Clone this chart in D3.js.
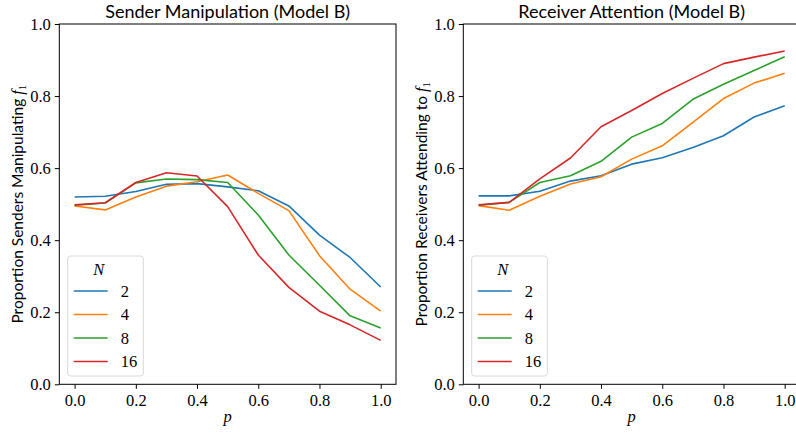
<!DOCTYPE html>
<html>
<head>
<meta charset="utf-8">
<script src="https://cdn.jsdelivr.net/npm/d3@7"></script>
<style>
  body { margin: 0; background: #fff; }
  svg text { fill: #000; }
</style>
</head>
<body>
<div id="chart"></div>
<script>
// data
var pValues = [0.0, 0.1, 0.2, 0.3, 0.4, 0.5, 0.6, 0.7, 0.8, 0.9, 1.0];
var groupSizes = ["2", "4", "8", "16"];
var tickValues = [0.0, 0.2, 0.4, 0.6, 0.8, 1.0];

var senderN2  = [0.520, 0.522, 0.535, 0.555, 0.557, 0.548, 0.537, 0.495, 0.414, 0.352, 0.270];
var senderN4  = [0.495, 0.484, 0.520, 0.550, 0.562, 0.581, 0.530, 0.482, 0.357, 0.264, 0.203];
var senderN8  = [0.497, 0.503, 0.559, 0.570, 0.568, 0.560, 0.470, 0.359, 0.275, 0.190, 0.156];
var senderN16 = [0.498, 0.504, 0.560, 0.587, 0.578, 0.493, 0.359, 0.269, 0.203, 0.165, 0.122];

var receiverN2  = [0.523, 0.523, 0.536, 0.564, 0.579, 0.611, 0.629, 0.657, 0.690, 0.742, 0.773];
var receiverN4  = [0.496, 0.483, 0.522, 0.556, 0.576, 0.625, 0.662, 0.727, 0.793, 0.836, 0.863];
var receiverN8  = [0.497, 0.505, 0.560, 0.579, 0.619, 0.686, 0.724, 0.791, 0.833, 0.871, 0.909];
var receiverN16 = [0.498, 0.505, 0.570, 0.628, 0.715, 0.760, 0.807, 0.849, 0.890, 0.908, 0.925];

var colors = ["#1f77b4", "#ff7f0e", "#2ca02c", "#d62728"];

var width = 796, height = 434;
var serif = "'Liberation Serif', 'DejaVu Serif', serif";
var sans = "Lato, 'Open Sans', sans-serif";

var svg = d3.select("#chart")
  .append("svg")
    .attr("width", width)
    .attr("height", height);

var panels = [
  {left: 59.3, title: "Sender Manipulation (Model B)", ylabel: "Proportion Senders Manipulating ",
   series: [senderN2, senderN4, senderN8, senderN16], labelX: 18},
  {left: 463.3, title: "Receiver Attention (Model B)", ylabel: "Proportion Receivers Attending to ",
   series: [receiverN2, receiverN4, receiverN8, receiverN16], labelX: 422}
];

var plotW = 336.7, plotTop = 24, plotBottom = 384.3;

panels.forEach(function(panel) {
  var x = d3.scaleLinear().domain([-0.05, 1.05]).range([panel.left, panel.left + plotW]);
  var y = d3.scaleLinear().domain([0, 1]).range([plotBottom, plotTop]);

  var g = svg.append("g");

  // x axis
  var xAxis = g.append("g")
    .attr("transform", "translate(0," + plotBottom + ")")
    .call(d3.axisBottom(x).tickValues(tickValues).tickFormat(d3.format(".1f")).tickSize(4.5).tickPadding(5));
  xAxis.select(".domain").remove();
  xAxis.selectAll("text").style("font-family", serif).style("font-size", "16.5px");
  xAxis.selectAll("line").attr("stroke", "#000").attr("stroke-width", 1);

  // y axis
  var yAxis = g.append("g")
    .attr("transform", "translate(" + panel.left + ",0)")
    .call(d3.axisLeft(y).tickValues(tickValues).tickFormat(d3.format(".1f")).tickSize(4.5).tickPadding(4));
  yAxis.select(".domain").remove();
  yAxis.selectAll("text").style("font-family", serif).style("font-size", "16.5px");
  yAxis.selectAll("line").attr("stroke", "#000").attr("stroke-width", 1);

  // lines
  var line = d3.line()
    .x(function(d, i) { return x(pValues[i]); })
    .y(function(d) { return y(d); });

  panel.series.forEach(function(s, k) {
    g.append("path")
      .datum(s)
      .attr("fill", "none")
      .attr("stroke", colors[k])
      .attr("stroke-width", 1.6)
      .attr("stroke-linejoin", "round")
      .attr("d", line);
  });

  // frame
  g.append("rect")
    .attr("x", panel.left)
    .attr("y", plotTop)
    .attr("width", plotW)
    .attr("height", plotBottom - plotTop)
    .attr("fill", "none")
    .attr("stroke", "#000")
    .attr("stroke-width", 1);

  // title
  g.append("text")
    .attr("x", panel.left + plotW / 2)
    .attr("y", 17.5)
    .attr("text-anchor", "middle")
    .style("font-family", sans)
    .style("font-size", "18px")
    .text(panel.title);

  // x label
  g.append("text")
    .attr("x", x(0.5))
    .attr("y", 422)
    .attr("text-anchor", "middle")
    .style("font-family", serif)
    .style("font-style", "italic")
    .style("font-size", "16.5px")
    .text("p");

  // y label
  var yl = g.append("text")
    .attr("transform", "translate(" + (panel.labelX + 5) + "," + ((plotTop + plotBottom) / 2) + ") rotate(-90)")
    .attr("text-anchor", "middle")
    .style("font-family", sans)
    .style("font-size", "15.5px")
    .text(panel.ylabel);
  yl.append("tspan")
    .style("font-family", serif)
    .style("font-style", "italic")
    .style("font-size", "16.5px")
    .text("f");
  yl.append("tspan")
    .attr("dy", 3)
    .style("font-family", serif)
    .style("font-size", "11px")
    .text("1");

  // legend
  var lx = panel.left + 8.4, ly = 256;
  var legend = g.append("g").attr("transform", "translate(" + lx + "," + ly + ")");
  legend.append("rect")
    .attr("width", 75.6)
    .attr("height", 120)
    .attr("rx", 3)
    .attr("fill", "#fff")
    .attr("fill-opacity", 0.8)
    .attr("stroke", "#d9d9d9")
    .attr("stroke-width", 1);
  legend.append("text")
    .attr("x", 31)
    .attr("y", 18.5)
    .attr("text-anchor", "middle")
    .style("font-family", serif)
    .style("font-style", "italic")
    .style("font-size", "16.5px")
    .text("N");
  groupSizes.forEach(function(n, k) {
    var yy = 35 + k * 23.5;
    legend.append("line")
      .attr("x1", 6).attr("x2", 40)
      .attr("y1", yy).attr("y2", yy)
      .attr("stroke", colors[k])
      .attr("stroke-width", 1.6);
    legend.append("text")
      .attr("x", 53)
      .attr("y", yy + 5.5)
      .style("font-family", serif)
      .style("font-size", "16.5px")
      .text(n);
  });
});
</script>
</body>
</html>
